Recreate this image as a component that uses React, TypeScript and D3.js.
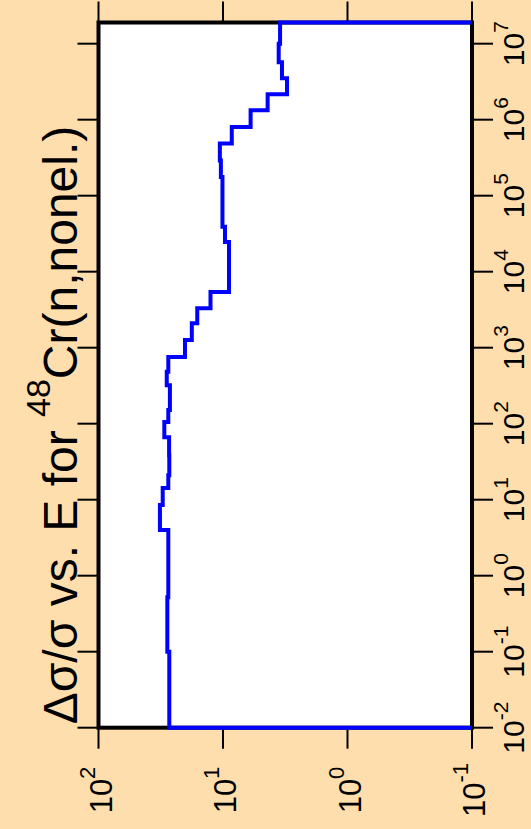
import React from "react";
import * as d3 from "d3";

// 48Cr(n,nonel.) relative uncertainty, plotted on its side
const energyEdges = [
  1e-2, 0.1, 0.52, 4.0, 8.5, 14.2, 21, 38.5, 66.5, 105, 151, 321, 481, 757,
  1260, 2100, 3300, 5400, 24600, 39000, 176000, 290000, 485000, 800000,
  1.33e6, 2.16e6, 3.5e6, 5.7e6, 1e7, 1.9e7,
];
const relUnc = [
  27.0, 28.0, 27.5, 32.1, 30.5, 27.5, 27.0, 27.1, 29.6, 27.5, 26.7, 28.3, 27.5,
  20.2, 17.8, 16.1, 12.6, 8.95, 9.64, 10.1, 10.4, 10.6, 8.5, 6.0, 4.38, 3.06,
  3.36, 3.57, 3.48,
];
const uncTickExp = [2, 1, 0, -1];
const energyTickExp = [-2, -1, 0, 1, 2, 3, 4, 5, 6, 7];

const W = 531;
const H = 829;
const bg = "#FFDEAD";
const font = "'Liberation Sans', Arial, Helvetica, sans-serif";

const box = { left: 98.5, right: 472, top: 22.5, bottom: 727.7 };
const tickLen = 21;

const x = d3.scaleLog().domain([100, 0.1]).range([box.left, box.right]);
const y = d3.scaleLog().domain([1e-2, 1.9e7]).range([box.bottom, box.top]);

function Pow({ tx, ty, base, exp, fs, sfs, shift }) {
  return (
    <text
      transform={`translate(${tx},${ty}) rotate(-90)`}
      textAnchor="middle"
      fontFamily={font}
      fontSize={fs}
    >
      {base}
      <tspan fontSize={sfs} dy={-shift}>{exp}</tspan>
    </text>
  );
}

export default function App() {
  const pts = [[0.1, energyEdges[0]]];
  relUnc.forEach((v, i) => {
    pts.push([v, energyEdges[i]]);
    pts.push([v, energyEdges[i + 1]]);
  });
  pts.push([0.1, energyEdges[energyEdges.length - 1]]);
  const line = d3.line().x((d) => x(d[0])).y((d) => y(d[1]));

  return (
    <div style={{ position: "fixed", left: 0, top: 0 }}>
      <svg width={W} height={H} style={{ display: "block" }}>
        <rect width={W} height={H} fill={bg} />
        <rect
          x={box.left}
          y={box.top}
          width={box.right - box.left}
          height={box.bottom - box.top}
          fill="#fff"
        />

        {/* ticks */}
        {uncTickExp.map((e) => (
          <g key={"u" + e} stroke="#000" strokeWidth={2}>
            <line x1={x(10 ** e)} x2={x(10 ** e)} y1={box.bottom} y2={box.bottom + tickLen} />
            <line x1={x(10 ** e)} x2={x(10 ** e)} y1={box.top} y2={box.top - tickLen} />
          </g>
        ))}
        {energyTickExp.map((e) => (
          <g key={"e" + e} stroke="#000" strokeWidth={2}>
            <line y1={y(10 ** e)} y2={y(10 ** e)} x1={box.right} x2={box.right + tickLen} />
            <line y1={y(10 ** e)} y2={y(10 ** e)} x1={box.left} x2={box.left - tickLen} />
          </g>
        ))}

        <rect
          x={box.left}
          y={box.top}
          width={box.right - box.left}
          height={box.bottom - box.top}
          fill="none"
          stroke="#000"
          strokeWidth={4}
        />

        <path d={line(pts)} fill="none" stroke="#0000FF" strokeWidth={4} strokeLinejoin="miter" />

        {/* tick labels */}
        {uncTickExp.map((e) => (
          <Pow key={"ul" + e} tx={x(10 ** e) + 13} ty={790} base="10" exp={String(e)} fs={31} sfs={22} shift={17} />
        ))}
        {energyTickExp.map((e) => (
          <Pow key={"el" + e} tx={524} ty={y(10 ** e)} base="10" exp={String(e)} fs={30} sfs={21} shift={16} />
        ))}

        {/* title */}
        <text
          transform="translate(77,425) rotate(-90)"
          textAnchor="middle"
          fontFamily={font}
          fontSize={48}
        >
          {"Δσ/σ vs. E for "}
          <tspan fontSize={34} dy={-27}>48</tspan>
          <tspan dy={27}>Cr(n,nonel.)</tspan>
        </text>
      </svg>
    </div>
  );
}
